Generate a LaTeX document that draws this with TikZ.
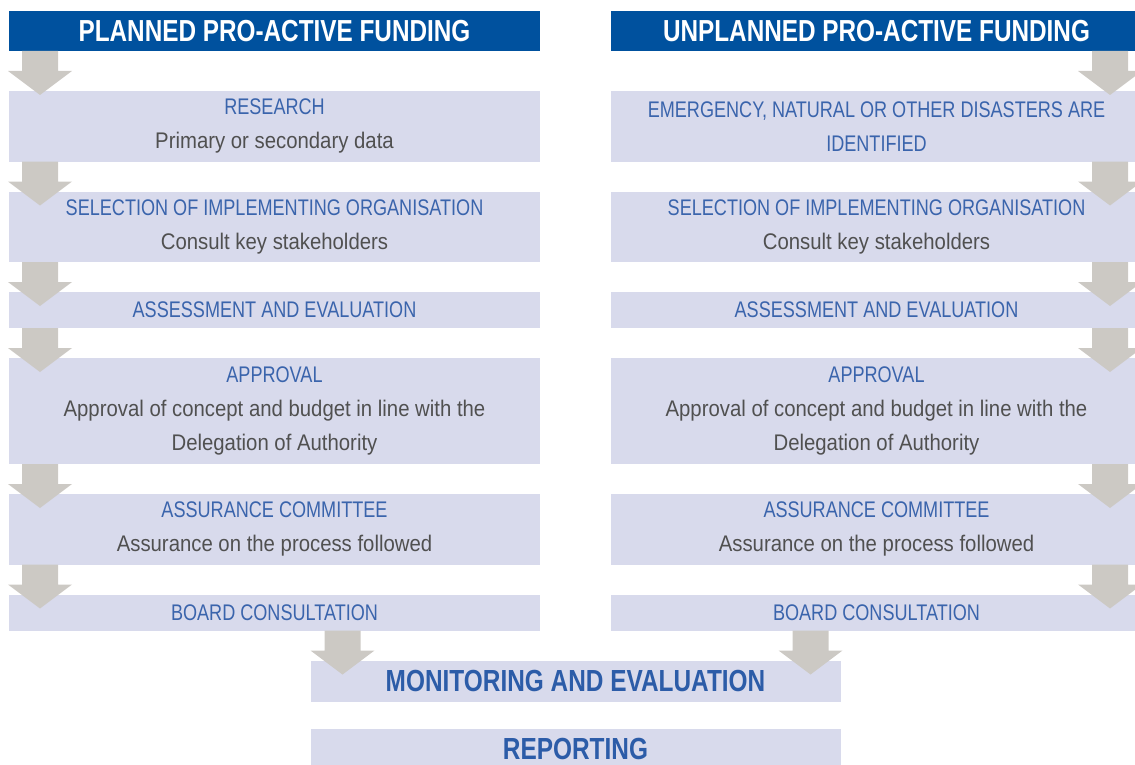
\documentclass[tikz,border=0pt]{standalone}
\usepackage{fontspec}
\setmainfont{Liberation Sans}[FakeStretch=0.8]
\newfontfamily\subtextfont{Liberation Sans}[FakeStretch=0.9]
\usetikzlibrary{positioning,calc}

\definecolor{headblue}{RGB}{0,81,158}
\definecolor{boxfill}{RGB}{216,218,236}
\definecolor{arrowgray}{RGB}{204,201,196}
\definecolor{capblue}{RGB}{58,100,172}
\definecolor{subgray}{RGB}{80,80,80}
\definecolor{boldblue}{RGB}{44,92,168}

\tikzset{
  header/.style={fill=headblue, text=white, minimum width=265.5pt, minimum height=20pt,
    inner sep=0pt, outer sep=0pt, font=\fontsize{15.2}{18}\selectfont\bfseries},
  stage/.style={fill=boxfill, text=capblue, minimum width=265.5pt, inner sep=0pt,
    outer sep=0pt, align=center, font=\fontsize{11.3}{17}\selectfont},
  oneline/.style={stage, minimum height=18pt},
  twoline/.style={stage, minimum height=35.25pt},
  threeline/.style={stage, minimum height=53pt},
  final/.style={fill=boxfill, text=boldblue, minimum width=265pt, minimum height=20.5pt,
    inner sep=0pt, outer sep=0pt, font=\fontsize{15.25}{18}\selectfont\bfseries},
}
\newcommand{\subtxt}[1]{{\subtextfont\color{subgray}#1}}
% grey block arrow hanging from the point given
\newcommand{\blockarrow}[1]{\fill[arrowgray] #1 ++(-9pt,0) -- ++(0,-10pt) -- ++(-7pt,0)
  -- ++(16pt,-12pt) -- ++(16pt,12pt) -- ++(-7pt,0) -- ++(0,10pt) -- cycle;}

\begin{document}
\begin{tikzpicture}

  \useasboundingbox (0,0) rectangle (567.5pt,-382.5pt);

  % planned column
  \node[header] (hl) at (137.25pt,-15.5pt) {PLANNED PRO-ACTIVE FUNDING};
  \node[twoline, below=20pt of hl] (l1) {RESEARCH\\\subtxt{Primary or secondary data}};
  \node[twoline, below=15pt of l1] (l2) {SELECTION OF IMPLEMENTING ORGANISATION\\\subtxt{Consult key stakeholders}};
  \node[oneline, below=15pt of l2] (l3) {ASSESSMENT AND EVALUATION};
  \node[threeline, below=15pt of l3] (l4) {APPROVAL\\\subtxt{Approval of concept and budget in line with the}\\\subtxt{Delegation of Authority}};
  \node[twoline, below=15pt of l4] (l5) {ASSURANCE COMMITTEE\\\subtxt{Assurance on the process followed}};
  \node[oneline, below=15pt of l5] (l6) {BOARD CONSULTATION};

  % unplanned column
  \node[header] (hr) at (438.25pt,-15.5pt) {UNPLANNED PRO-ACTIVE FUNDING};
  \node[twoline, below=20pt of hr] (r1) {EMERGENCY, NATURAL OR OTHER DISASTERS ARE\\IDENTIFIED};
  \node[twoline, below=15pt of r1] (r2) {SELECTION OF IMPLEMENTING ORGANISATION\\\subtxt{Consult key stakeholders}};
  \node[oneline, below=15pt of r2] (r3) {ASSESSMENT AND EVALUATION};
  \node[threeline, below=15pt of r3] (r4) {APPROVAL\\\subtxt{Approval of concept and budget in line with the}\\\subtxt{Delegation of Authority}};
  \node[twoline, below=15pt of r4] (r5) {ASSURANCE COMMITTEE\\\subtxt{Assurance on the process followed}};
  \node[oneline, below=15pt of r5] (r6) {BOARD CONSULTATION};

  % common end
  \coordinate (mid) at ($(l6.south)!0.5!(r6.south)$);
  \node[final, below=15pt of mid] (me) {MONITORING AND EVALUATION};
  \node[final, below=13.5pt of me] (rep) {REPORTING};

  % arrows
  \foreach \nm in {hl,l1,l2,l3,l4,l5}
    {\blockarrow{($(\nm.south west)+(15.5pt,0)$)}}
  \foreach \nm in {hr,r1,r2,r3,r4,r5}
    {\blockarrow{($(\nm.south east)+(-16pt,0)$)}}
  \blockarrow{($(l6.south -| me.west)+(16pt,0)$)}
  \blockarrow{($(r6.south -| me.east)+(-15pt,0)$)}

\end{tikzpicture}
\end{document}
